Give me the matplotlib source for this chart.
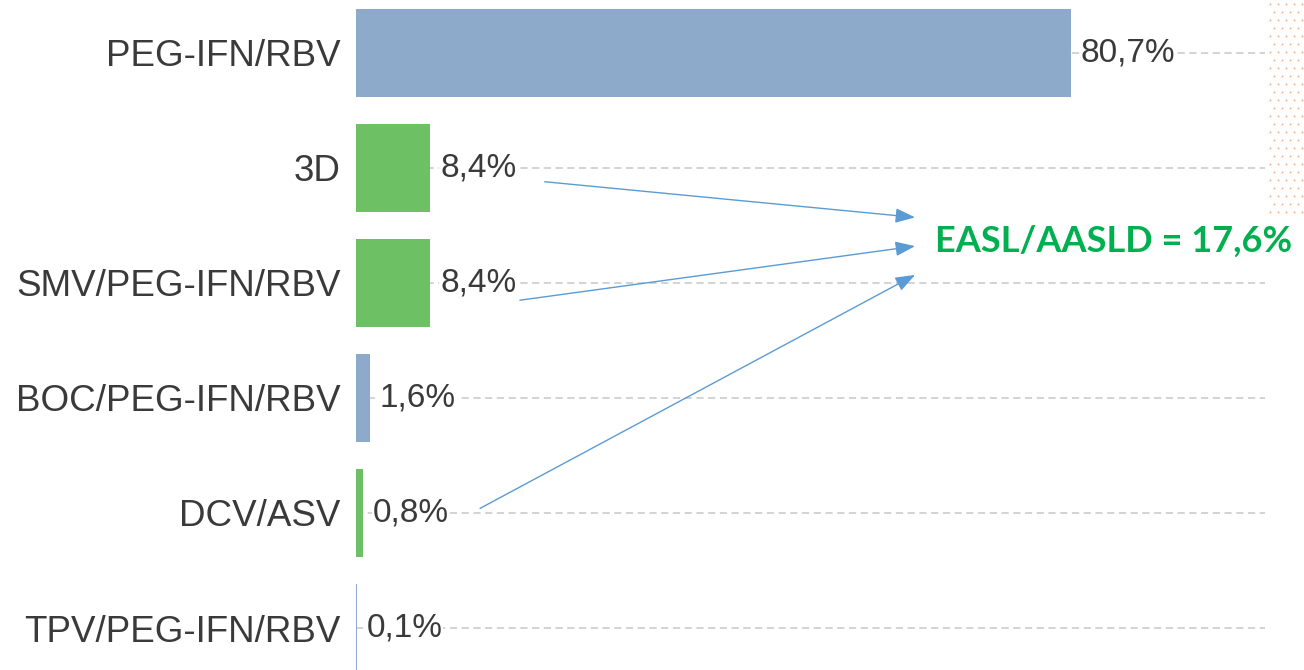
import numpy as np
import matplotlib
matplotlib.use("Agg")
import matplotlib.pyplot as plt

# data
regimens = ["PEG-IFN/RBV", "3D", "SMV/PEG-IFN/RBV", "BOC/PEG-IFN/RBV", "DCV/ASV", "TPV/PEG-IFN/RBV"]
shares = [80.7, 8.4, 8.4, 1.6, 0.8, 0.1]
value_labels = ["80,7%", "8,4%", "8,4%", "1,6%", "0,8%", "0,1%"]
guideline = [False, True, True, False, True, False]   # EASL/AASLD recommended
summary_text = "EASL/AASLD = 17,6%"

# arrow anchors (data units: % on x, row index on y)
arrow_from = [(21.3, 1.12), (18.5, 2.15), (14.0, 3.96)]
arrow_to = [(63.1, 1.43), (63.1, 1.68), (63.1, 1.93)]
text_pos = (65.3, 1.64)

BLUE = "#8DAACB"
GREEN = "#6DC063"

plt.rcParams["font.family"] = ["Liberation Sans", "DejaVu Sans"]

fig = plt.figure(figsize=(13.04, 6.70), dpi=100)
ax = fig.add_axes((356 / 1304, 0.0, (1265 - 356) / 1304, 1.0))

y = np.arange(len(regimens))
colors = [GREEN if g else BLUE for g in guideline]

ax.hlines(y, 0, 102.6, colors="#D0D0D0", linestyles=(0, (4, 2.5)), linewidth=1.3, zorder=0)
ax.barh(y, shares, height=0.77, color=colors, zorder=2)

for yi, v, lab in zip(y, shares, value_labels):
    ax.annotate(lab, (v, yi), xytext=(7, 0), textcoords="offset points",
                va="center", ha="left", fontsize=24, color="#3A3A3A",
                bbox=dict(facecolor="white", edgecolor="none", pad=0.5), zorder=3)

ax.set_xlim(0, 102.6)
ax.set_ylim(5.365, -0.46)
ax.set_yticks(y)
ax.set_yticklabels(regimens, fontsize=26.5, color="#3A3A3A")
ax.tick_params(axis="y", length=0, pad=11)
ax.set_xticks([])
for s in ax.spines.values():
    s.set_visible(False)

for (x0, y0), (x1, y1) in zip(arrow_from, arrow_to):
    ax.annotate("", xy=(x1, y1), xytext=(x0, y0),
                arrowprops=dict(arrowstyle="-|>,head_length=1.2,head_width=0.45",
                                color="#5B9BD5", lw=1.0, shrinkA=0, shrinkB=0),
                zorder=4)

ax.text(text_pos[0], text_pos[1], summary_text, ha="left", va="center",
        fontsize=26, fontweight="bold", color="#00B050", family=["Lato", "DejaVu Sans"],
        zorder=5)

# decorative dot pattern on the right edge
dax = fig.add_axes((1266 / 1304, 1 - 220 / 670, 38 / 1304, 220 / 670))
dax.set_xlim(1266, 1304)
dax.set_ylim(220, 0)
dax.axis("off")
gx, gy = np.meshgrid(np.arange(1270, 1304, 8), np.arange(4, 220, 8))
gx = gx + (np.arange(gy.shape[0])[:, None] % 2) * 4
dax.scatter(gx.ravel(), gy.ravel(), s=2.0, color="#F4B183", linewidths=0)

fig.savefig("out.png", dpi=100)
